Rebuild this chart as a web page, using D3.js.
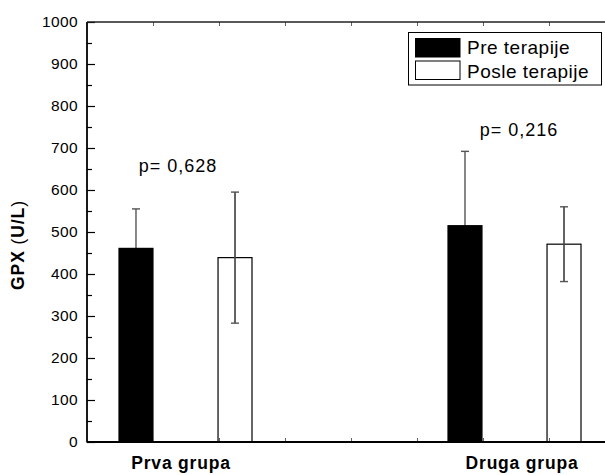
<!DOCTYPE html>
<html>
<head>
<meta charset="utf-8">
<script src="https://cdn.jsdelivr.net/npm/d3@7"></script>
<style>
  html, body { margin: 0; padding: 0; background: #fff; }
  svg { display: block; font-family: Arial, "Liberation Sans", Helvetica, sans-serif; }
</style>
</head>
<body>
<svg id="chart" width="605" height="475"></svg>
<script>
// ---- data ----
const groups = ["Prva grupa", "Druga grupa"];
const series = ["Pre terapije", "Posle terapije"];
const preMean = [461, 515];
const preSD = [94, 177];
const postMean = [439, 471];
const postSD = [156, 89];
const pLabels = ["p= 0,628", "p= 0,216"];
const pLabelY = [643, 729];
const yTicks = [0, 100, 200, 300, 400, 500, 600, 700, 800, 900, 1000];
const yMinorTicks = [50, 150, 250, 350, 450, 550, 650, 750, 850, 950];
const xMinorTicks = [1, 2, 3, 4, 5, 6, 7];

// ---- layout ----
const plotLeft = 87, plotTop = 22, plotBottom = 442, frameRight = 615;
const labelDx = [94, 106];

const svg = d3.select("#chart");

const y = d3.scaleLinear().domain([0, 1000]).range([plotBottom, plotTop]);
const x0 = d3.scaleBand().domain(groups).range([plotLeft, plotLeft + 2 * 329]);
const x1 = d3.scaleBand().domain(series).range([32, 165]).paddingInner(0.657);
const xLin = d3.scaleLinear().domain([0, 8]).range([plotLeft, plotLeft + 8 * 66]);

const rows = [];
groups.forEach((g, i) => {
  rows.push({ g, s: series[0], m: preMean[i], sd: preSD[i] });
  rows.push({ g, s: series[1], m: postMean[i], sd: postSD[i] });
});

// error bars (drawn first so black bars hide lower halves)
const eb = svg.append("g").attr("stroke", "#555").attr("stroke-width", 1.4);
rows.forEach(r => {
  const cx = x0(r.g) + x1(r.s) + x1.bandwidth() / 2;
  eb.append("line").attr("x1", cx).attr("x2", cx).attr("y1", y(r.m + r.sd)).attr("y2", y(r.m - r.sd));
  eb.append("line").attr("x1", cx - 4).attr("x2", cx + 4).attr("y1", y(r.m + r.sd)).attr("y2", y(r.m + r.sd));
  eb.append("line").attr("x1", cx - 4).attr("x2", cx + 4).attr("y1", y(r.m - r.sd)).attr("y2", y(r.m - r.sd));
});

// bars
svg.append("g").selectAll("rect").data(rows).join("rect")
  .attr("x", d => x0(d.g) + x1(d.s))
  .attr("width", x1.bandwidth())
  .attr("y", d => y(d.m))
  .attr("height", d => y(0) - y(d.m))
  .attr("fill", d => d.s === series[0] ? "#000" : "none")
  .attr("stroke", "#000")
  .attr("stroke-width", 1.2);

// redraw error bars for white bars on top of outline
const eb2 = svg.append("g").attr("stroke", "#555").attr("stroke-width", 1.4);
rows.filter(r => r.s === series[1]).forEach(r => {
  const cx = x0(r.g) + x1(r.s) + x1.bandwidth() / 2;
  eb2.append("line").attr("x1", cx).attr("x2", cx).attr("y1", y(r.m + r.sd)).attr("y2", y(r.m - r.sd));
});

// y axis
const yAxis = d3.axisLeft(y).tickValues(yTicks).tickSize(-8).tickPadding(9).tickFormat(d3.format("d"));
const gy = svg.append("g").attr("transform", `translate(${plotLeft},0)`).call(yAxis);
gy.select(".domain").remove();
gy.selectAll(".tick line").attr("stroke", "#000").attr("stroke-width", 1.2);
gy.selectAll(".tick text").attr("font-size", 15.5).attr("fill", "#000").style("letter-spacing", "0.4px")
  .attr("font-family", "Arial, 'Liberation Sans', sans-serif");
const yMinor = d3.axisLeft(y).tickValues(yMinorTicks).tickSize(-5).tickFormat("");
const gym = svg.append("g").attr("transform", `translate(${plotLeft},0)`).call(yMinor);
gym.select(".domain").remove();
gym.selectAll(".tick line").attr("stroke", "#000").attr("stroke-width", 1.2);

// x minor ticks bottom & top
const xb = d3.axisBottom(xLin).tickValues(xMinorTicks).tickSize(-4).tickFormat("");
const gxb = svg.append("g").attr("transform", `translate(0,${plotBottom})`).call(xb);
gxb.select(".domain").remove();
gxb.selectAll(".tick line").attr("stroke", "#666").attr("stroke-width", 1);
const xt = d3.axisTop(xLin).tickValues(xMinorTicks).tickSize(-4).tickFormat("");
const gxt = svg.append("g").attr("transform", `translate(0,${plotTop})`).call(xt);
gxt.select(".domain").remove();
gxt.selectAll(".tick line").attr("stroke", "#666").attr("stroke-width", 1);

// frame
svg.append("line").attr("x1", plotLeft).attr("x2", plotLeft).attr("y1", plotTop).attr("y2", plotBottom + 0.5)
  .attr("stroke", "#000").attr("stroke-width", 1.8);
svg.append("line").attr("x1", plotLeft).attr("x2", frameRight).attr("y1", plotBottom).attr("y2", plotBottom)
  .attr("stroke", "#000").attr("stroke-width", 1.8);
svg.append("line").attr("x1", plotLeft).attr("x2", frameRight).attr("y1", plotTop).attr("y2", plotTop)
  .attr("stroke", "#222").attr("stroke-width", 1.4);

// group labels
svg.append("g").selectAll("text").data(groups).join("text")
  .attr("x", (d, i) => x0(d) + labelDx[i])
  .attr("y", 469)
  .attr("text-anchor", "middle")
  .attr("font-size", 17.5)
  .attr("font-weight", "bold")
  .style("letter-spacing", "0.8px")
  .text(d => d);

// p labels
svg.append("g").selectAll("text").data(pLabels).join("text")
  .attr("x", (d, i) => x0(groups[i]) + labelDx[i] - 3)
  .attr("y", (d, i) => y(pLabelY[i]))
  .attr("text-anchor", "middle")
  .attr("font-size", 18)
  .style("letter-spacing", "1px")
  .text(d => d);

// y title
const yt = svg.append("text")
  .attr("transform", "translate(24,245) rotate(-90)")
  .attr("text-anchor", "middle")
  .attr("font-size", 17.5)
  .style("letter-spacing", "0.9px");
yt.append("tspan").attr("font-weight", "bold").text("GPX ");
yt.append("tspan").text("(");
yt.append("tspan").attr("font-weight", "bold").text("U/L");
yt.append("tspan").text(")");

// legend
const lg = svg.append("g");
lg.append("rect").attr("x", 408.5).attr("y", 32.5).attr("width", 193).attr("height", 52.5)
  .attr("fill", "#fff").attr("stroke", "#000").attr("stroke-width", 1);
const legendFill = ["#000", "#fff"];
series.forEach((s, i) => {
  lg.append("rect").attr("x", 415.5).attr("y", 38.5 + i * 22.5).attr("width", 44.5).attr("height", 18.5)
    .attr("fill", legendFill[i]).attr("stroke", "#000").attr("stroke-width", 1);
  lg.append("text").attr("x", 467).attr("y", 54 + i * 23.5)
    .attr("font-size", 19).style("letter-spacing", "0.5px").text(s);
});
</script>
</body>
</html>
